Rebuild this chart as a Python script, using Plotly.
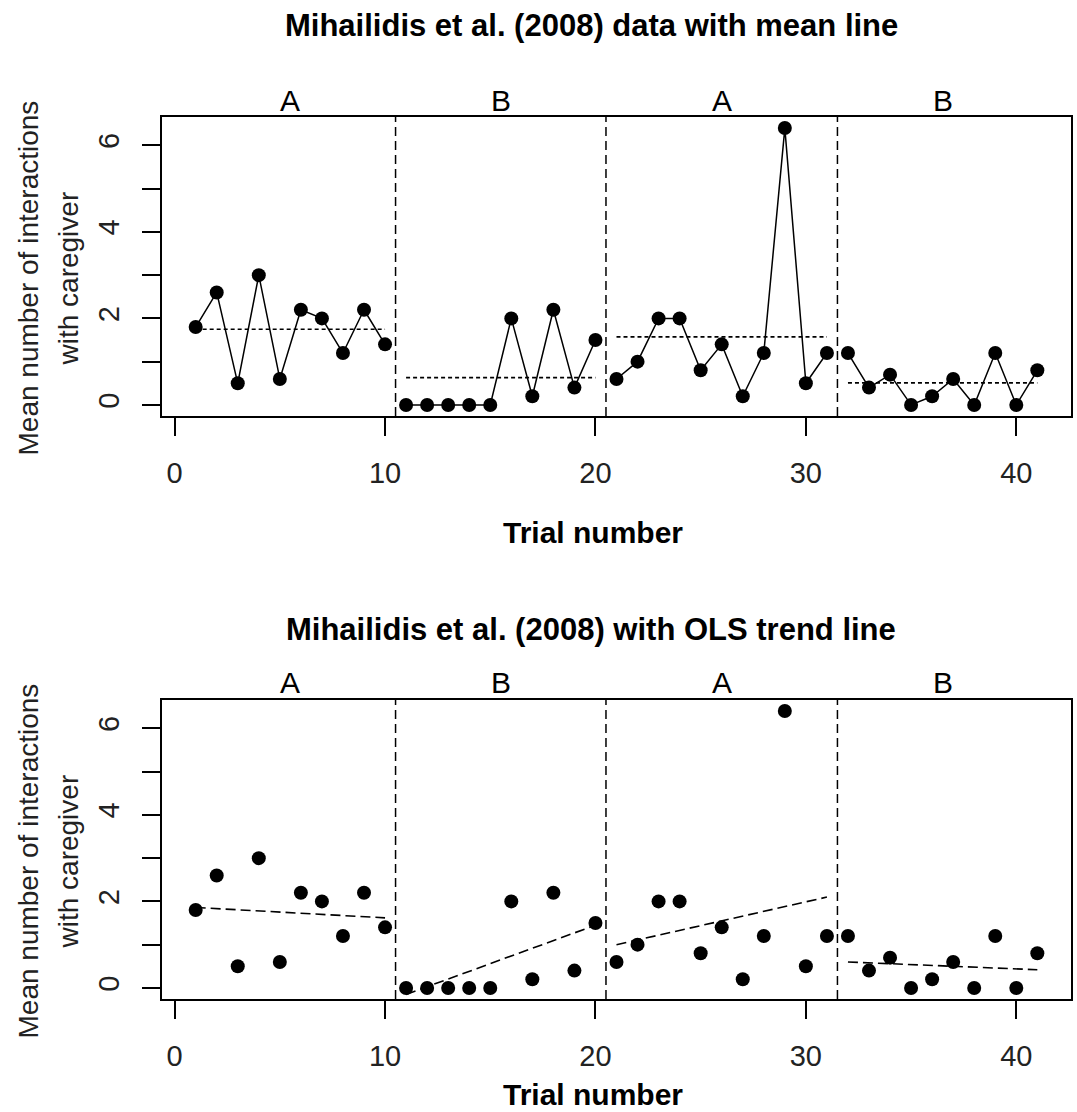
import numpy as np
import plotly.graph_objects as go

# ---------------- data ----------------
trial = list(range(1, 42))
interactions = [1.8, 2.6, 0.5, 3.0, 0.6, 2.2, 2.0, 1.2, 2.2, 1.4,
                0.0, 0.0, 0.0, 0.0, 0.0, 2.0, 0.2, 2.2, 0.4, 1.5,
                0.6, 1.0, 2.0, 2.0, 0.8, 1.4, 0.2, 1.2, 6.4, 0.5, 1.2,
                1.2, 0.4, 0.7, 0.0, 0.2, 0.6, 0.0, 1.2, 0.0, 0.8]
phase_labels = ["A", "B", "A", "B"]
phase_start = [1, 11, 21, 32]
phase_end = [10, 20, 31, 41]
phase_breaks = [10.5, 20.5, 31.5]
# OLS trend line values at phase start / end
trend_start = [1.86, -0.15, 1.0, 0.6]
trend_end = [1.62, 1.45, 2.1, 0.42]
x_ticks = [0, 10, 20, 30, 40]
y_ticks = [0, 1, 2, 3, 4, 5, 6]
y_tick_text = ["0", "", "2", "", "4", "", "6"]

title_top = "Mihailidis et al. (2008) data with mean line"
title_bottom = "Mihailidis et al. (2008) with OLS trend line"
x_title = "Trial number"
y_title_1 = "Mean number of interactions"
y_title_2 = "with caregiver"

# ---------------- layout helpers ----------------
W, H = 1077, 1112
FONT = "Liberation Sans, Arial, sans-serif"


def px(x):
    return x / W


def py(y):
    return 1 - y / H


panels = [
    dict(top=117, bottom=416, xa="x", ya="y", title=title_top, title_y=26,
         phase_y=100, xlab_y=532, mode="mean"),
    dict(top=700, bottom=999, xa="x2", ya="y2", title=title_bottom, title_y=629,
         phase_y=682, xlab_y=1094, mode="trend"),
]

fig = go.Figure()
annotations = []
shapes = []

for p in panels:
    for i in range(len(phase_labels)):
        s, e = phase_start[i], phase_end[i]
        xs = [t for t in trial if s <= t <= e]
        ys = [interactions[t - 1] for t in xs]
        fig.add_trace(go.Scatter(
            x=xs, y=ys, xaxis=p["xa"], yaxis=p["ya"],
            mode="lines+markers" if p["mode"] == "mean" else "markers",
            line=dict(color="black", width=1.5),
            marker=dict(color="black", size=14),
            showlegend=False, hoverinfo="x+y"))
        if p["mode"] == "mean":
            m = float(np.mean(ys))
            fig.add_trace(go.Scatter(
                x=[s, e], y=[m, m], xaxis=p["xa"], yaxis=p["ya"], mode="lines",
                line=dict(color="black", width=1.6, dash="4px,3px"),
                showlegend=False, hoverinfo="skip"))
        else:
            fig.add_trace(go.Scatter(
                x=[s, e], y=[trend_start[i], trend_end[i]],
                xaxis=p["xa"], yaxis=p["ya"], mode="lines",
                line=dict(color="black", width=1.6, dash="10px,5px"),
                showlegend=False, hoverinfo="skip"))
        annotations.append(dict(
            x=(s + e) / 2, xref=p["xa"], y=py(p["phase_y"]), yref="paper",
            text=phase_labels[i], showarrow=False, xanchor="center", yanchor="middle",
            font=dict(family=FONT, size=30, color="black")))
    for b in phase_breaks:
        shapes.append(dict(
            type="line", xref=p["xa"], yref=p["ya"] + " domain",
            x0=b, x1=b, y0=0, y1=1,
            line=dict(color="black", width=1.5, dash="9px,5px")))
    # title
    annotations.append(dict(
        x=px(591), y=py(p["title_y"]), xref="paper", yref="paper",
        text="<b>" + p["title"] + "</b>", showarrow=False,
        xanchor="center", yanchor="middle",
        font=dict(family=FONT, size=31, color="black")))
    # x title
    annotations.append(dict(
        x=px(593), y=py(p["xlab_y"]), xref="paper", yref="paper",
        text="<b>" + x_title + "</b>", showarrow=False,
        xanchor="center", yanchor="middle",
        font=dict(family=FONT, size=30, color="black")))
    # y title (two lines)
    yc = (p["top"] + p["bottom"]) / 2 + 12
    for txt, xc in [(y_title_1, 28), (y_title_2, 68)]:
        annotations.append(dict(
            x=px(xc), y=py(yc), xref="paper", yref="paper",
            text=txt, showarrow=False, textangle=-90,
            xanchor="center", yanchor="middle",
            font=dict(family=FONT, size=28, color="#222222")))

axis_common = dict(showgrid=False, zeroline=False, showline=True, linecolor="black",
                   linewidth=1.5, mirror=True, ticks="outside", ticklen=18,
                   tickwidth=1.5, tickcolor="black",
                   tickfont=dict(family=FONT, size=29, color="#222222"))

layout = dict(
    width=W, height=H, margin=dict(l=0, r=0, t=0, b=0),
    paper_bgcolor="white", plot_bgcolor="white",
    annotations=annotations, shapes=shapes, showlegend=False,
)
for p, xk, yk in [(panels[0], "xaxis", "yaxis"), (panels[1], "xaxis2", "yaxis2")]:
    layout[xk] = dict(axis_common, domain=[px(162), px(1071)], range=[-0.6, 42.6],
                      tickmode="array", tickvals=x_ticks,
                      ticktext=[str(v) for v in x_ticks],
                      anchor=p["ya"], ticklabelstandoff=12)
    layout[yk] = dict(axis_common, domain=[py(p["bottom"]), py(p["top"])],
                      range=[-0.256, 6.656], tickmode="array", tickvals=y_ticks,
                      ticktext=y_tick_text, tickangle=-90,
                      anchor=p["xa"], ticklabelstandoff=12)

fig.update_layout(**layout)
fig.write_html("out.html")
